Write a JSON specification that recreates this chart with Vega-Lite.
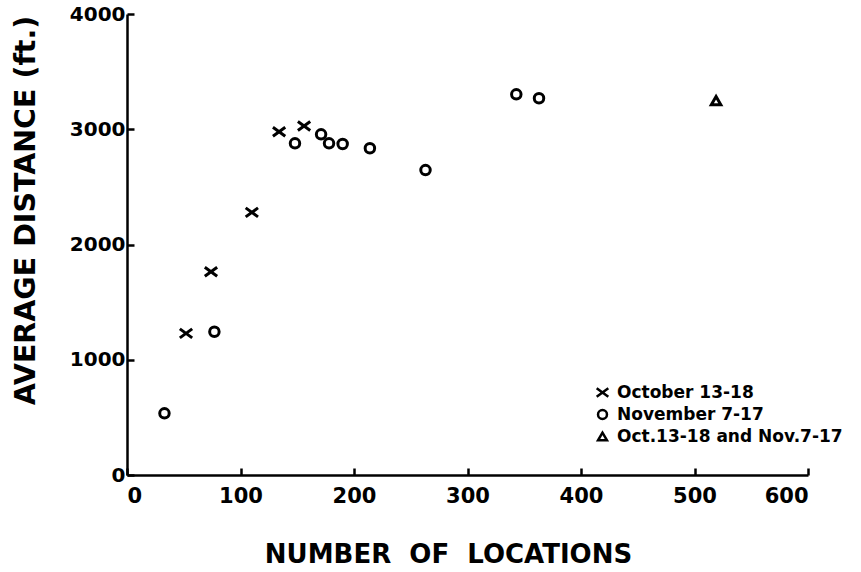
{
  "$schema": "https://vega.github.io/schema/vega-lite/v6.json",
  "width": 681,
  "height": 461,
  "autosize": {"type": "none"},
  "padding": {"left": 127, "top": 14, "right": 53, "bottom": 97},
  "background": "white",
  "config": {
    "view": {"stroke": null},
    "font": "DejaVu Sans",
    "axis": {
      "grid": false,
      "domainColor": "black",
      "domainWidth": 2.5,
      "tickColor": "black",
      "tickWidth": 2.5,
      "tickSize": -7,
      "labelColor": "black",
      "labelFontWeight": "bold",
      "titleColor": "black",
      "titleFontWeight": "bold"
    }
  },
  "data": {
    "values": [
      {"locations": 33, "distance": 535, "period": "November 7-17"},
      {"locations": 52, "distance": 1229, "period": "October 13-18"},
      {"locations": 77, "distance": 1243, "period": "November 7-17"},
      {"locations": 74, "distance": 1764, "period": "October 13-18"},
      {"locations": 110, "distance": 2279, "period": "October 13-18"},
      {"locations": 134, "distance": 2979, "period": "October 13-18"},
      {"locations": 156, "distance": 3028, "period": "October 13-18"},
      {"locations": 148, "distance": 2878, "period": "November 7-17"},
      {"locations": 171, "distance": 2956, "period": "November 7-17"},
      {"locations": 178, "distance": 2878, "period": "November 7-17"},
      {"locations": 190, "distance": 2872, "period": "November 7-17"},
      {"locations": 214, "distance": 2835, "period": "November 7-17"},
      {"locations": 263, "distance": 2646, "period": "November 7-17"},
      {"locations": 343, "distance": 3303, "period": "November 7-17"},
      {"locations": 363, "distance": 3269, "period": "November 7-17"},
      {"locations": 519, "distance": 3248, "period": "Oct.13-18 and Nov.7-17"}
    ]
  },
  "mark": {
    "type": "point",
    "filled": false,
    "color": "black",
    "opacity": 1,
    "strokeWidth": 3,
    "size": 90
  },
  "encoding": {
    "x": {
      "field": "locations",
      "type": "quantitative",
      "scale": {"domain": [0, 600], "nice": false},
      "axis": {
        "values": [0, 100, 200, 300, 400, 500, 600],
        "format": "d",
        "labelFontSize": 21,
        "labelPadding": 17,
        "title": "NUMBER\u00a0\u00a0OF\u00a0\u00a0LOCATIONS",
        "titleFontSize": 26,
        "titleAlign": "center",
        "titleBaseline": "alphabetic",
        "titleX": 321,
        "titleY": 87
      }
    },
    "y": {
      "field": "distance",
      "type": "quantitative",
      "scale": {"domain": [0, 4000], "nice": false},
      "axis": {
        "values": [0, 1000, 2000, 3000, 4000],
        "format": "d",
        "labelFontSize": 20,
        "labelPadding": 9,
        "title": "AVERAGE DISTANCE (ft.)",
        "titleFontSize": 28.5,
        "titleAngle": -90,
        "titleAlign": "center",
        "titleBaseline": "alphabetic",
        "titleX": -93,
        "titleY": 196
      }
    },
    "shape": {
      "field": "period",
      "type": "nominal",
      "scale": {
        "domain": ["October 13-18", "November 7-17", "Oct.13-18 and Nov.7-17"],
        "range": ["M-1.3,-0.95L1.3,0.95M-1.3,0.95L1.3,-0.95", "circle", "triangle-up"]
      },
      "legend": {
        "title": null,
        "orient": "none",
        "legendX": 467,
        "legendY": 370,
        "padding": 0,
        "symbolSize": 80,
        "symbolStrokeWidth": 2.5,
        "symbolStrokeColor": "black",
        "symbolFillColor": "transparent",
        "labelFontSize": 17,
        "labelFontWeight": "bold",
        "labelColor": "black",
        "labelOffset": 6,
        "rowPadding": 3,
        "labelLimit": 400
      }
    }
  }
}
